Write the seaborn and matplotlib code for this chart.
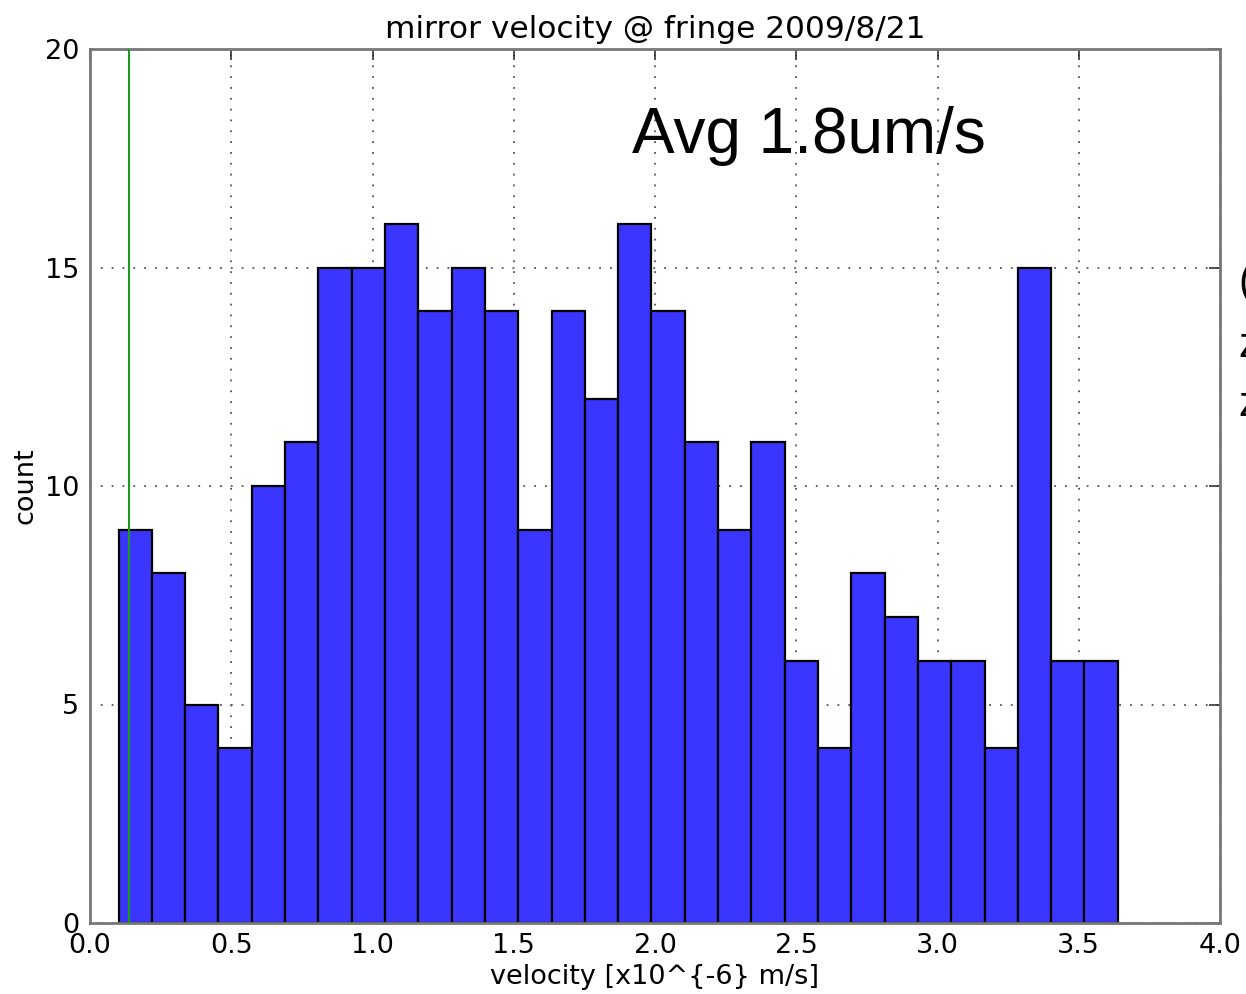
import numpy as np
import pandas as pd
import matplotlib
matplotlib.use("Agg")
import matplotlib.pyplot as plt
import seaborn as sns

# data
bin_start = 0.101
bin_width = 0.1179
counts = [9, 8, 5, 4, 10, 11, 15, 15, 16, 14, 15, 14, 9, 14, 12,
          16, 14, 11, 9, 11, 6, 4, 8, 7, 6, 6, 4, 15, 6, 6]
marker_x = 0.139
x_ticks = [0.0, 0.5, 1.0, 1.5, 2.0, 2.5, 3.0, 3.5, 4.0]
y_ticks = [0, 5, 10, 15, 20]
title = "mirror velocity @ fringe 2009/8/21"
xlabel = "velocity [x10^{-6} m/s]"
ylabel = "count"
note = "Avg 1.8um/s"

sns.set_theme(style="white")
plt.rcParams['font.family'] = ['DejaVu Sans']
plt.rcParams['text.color'] = 'black'
plt.rcParams['axes.labelcolor'] = 'black'

edges = bin_start + bin_width * np.arange(len(counts) + 1)
centers = (edges[:-1] + edges[1:]) / 2
df = pd.DataFrame({"v": centers, "w": np.array(counts, dtype=float)})

fig = plt.figure(figsize=(12.46, 9.94), dpi=100)
ax = fig.add_axes([90/1246, 71/994, 1130/1246, 874/994])

ax.set_axisbelow(True)
ax.grid(True, color='#555555', linestyle=(0, (1, 5)), linewidth=1.3)

sns.histplot(data=df, x="v", weights="w", bins=list(edges), color='#3a35ff',
             edgecolor='black', linewidth=1.6, alpha=1.0, ax=ax, zorder=2)

ax.axvline(marker_x, color='#1a9a1a', linewidth=1.5, zorder=3)

ax.set_xlim(0, 4)
ax.set_ylim(0, 20)
ax.set_xticks(x_ticks)
ax.set_xticklabels([f"{v:.1f}" for v in x_ticks])
ax.set_yticks(y_ticks)
ax.tick_params(direction='in', length=8, width=1.2, colors='#333333',
               labelcolor='black', labelsize=19.5, top=True, right=True)
ax.tick_params(axis='x', pad=7)
ax.tick_params(axis='y', pad=8)
for s in ax.spines.values():
    s.set_color('#777777')
    s.set_linewidth(2)

ax.set_title(title, fontsize=22.5, pad=8, color='black')
ax.set_xlabel(xlabel, fontsize=19.5, labelpad=4, color='black')
ax.set_ylabel(ylabel, fontsize=19.5, labelpad=4, color='black')

ax.text(0.48, 0.9, note, transform=ax.transAxes, fontsize=46,
        family='Liberation Sans', ha='left', va='center', color='black')

# clipped slide text at the right edge
fig.text(1238/1246, 1 - 283/994, "(", fontsize=30, family='Liberation Sans',
         va='center', ha='left')
fig.text(1238/1246, 1 - 346/994, "z", fontsize=30, family='Liberation Sans',
         va='center', ha='left')
fig.text(1238/1246, 1 - 405/994, "z", fontsize=30, family='Liberation Sans',
         va='center', ha='left')

fig.savefig("out.png", dpi=100)
